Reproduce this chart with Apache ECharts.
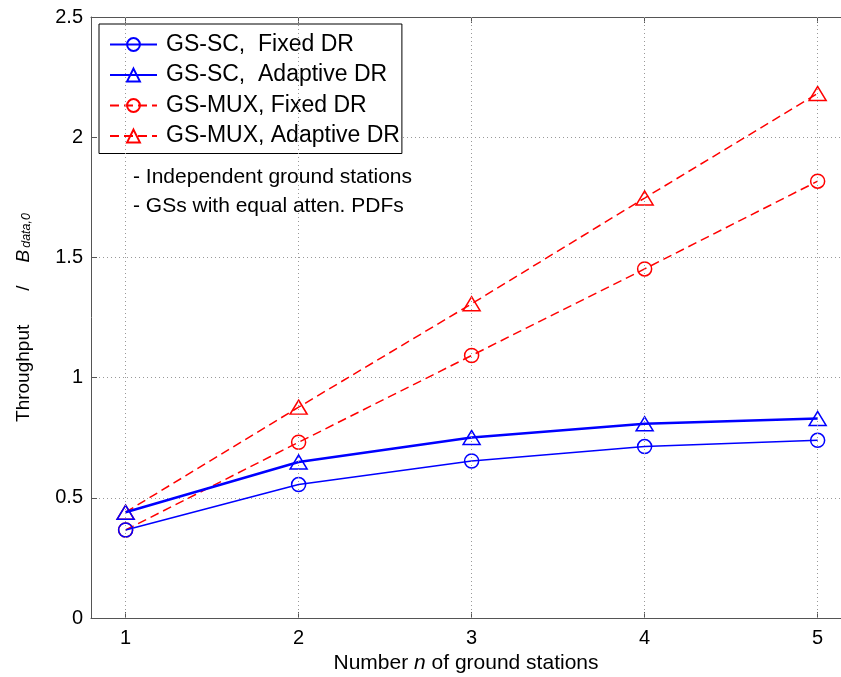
<!DOCTYPE html>
<html>
<head>
<meta charset="utf-8">
<script src="https://cdn.jsdelivr.net/npm/echarts@6/dist/echarts.min.js"></script>
<style>html,body{margin:0;padding:0;background:#fff;}#c{width:841px;height:677px;}</style>
</head>
<body>
<div id="c"></div>
<script>
const xValues = [1, 2, 3, 4, 5];
const xTicks = [1, 2, 3, 4, 5];
const yTicks = [0, 0.5, 1, 1.5, 2, 2.5];
const scFixed = [0.366, 0.555, 0.653, 0.713, 0.739];
const scAdaptive = [0.44, 0.649, 0.751, 0.808, 0.83];
const muxFixed = [0.366, 0.731, 1.092, 1.452, 1.817];
const muxAdaptive = [0.44, 0.877, 1.307, 1.747, 2.182];
const seriesNames = ['GS-SC,  Fixed DR', 'GS-SC,  Adaptive DR', 'GS-MUX, Fixed DR', 'GS-MUX, Adaptive DR'];
const notes = ['- Independent ground stations', '- GSs with equal atten. PDFs'];

const FONT = 'Liberation Sans, Arial, sans-serif';
const BLUE = '#0000ff', RED = '#ff0000';
const pairs = arr => xValues.map((x, i) => [x, arr[i]]);

const chart = echarts.init(document.getElementById('c'), null, {renderer: 'canvas'});

function mkSeries(name, data, color, symbol, size, width, dashed, z) {
  return {
    name: name, type: 'line', data: pairs(data), color: color,
    symbol: symbol, symbolSize: size, z: z,
    lineStyle: {color: color, width: width, type: dashed ? [9, 5] : 'solid'},
    itemStyle: {color: 'rgba(255,255,255,0)', borderColor: color, borderWidth: 1.5},
    emphasis: {disabled: true}, animation: false
  };
}

const option = {
  backgroundColor: '#fff',
  animation: false,
  textStyle: {fontFamily: FONT},
  grid: {left: 91, top: 17, right: 0, bottom: 59, outerBoundsMode: 'none', containLabel: false},
  xAxis: [{
    type: 'value', min: 0.8, max: 5.135, position: 'bottom',
    axisLine: {show: true, lineStyle: {color: '#555', width: 1}},
    axisTick: {show: true, inside: true, length: 6, customValues: xTicks, lineStyle: {color: '#555'}},
    axisLabel: {customValues: xTicks, fontSize: 20, color: '#000', margin: 10, fontFamily: FONT},
    splitLine: {show: false},
    name: 'Number {i|n} of ground stations',
    nameLocation: 'middle', nameGap: 34,
    nameTextStyle: {fontSize: 21, color: '#000', fontFamily: FONT,
      rich: {i: {fontSize: 21, fontStyle: 'italic', color: '#000', fontFamily: FONT}}}
  }, {
    type: 'value', min: 0.8, max: 5.135, position: 'top',
    axisLine: {show: true, onZero: false, lineStyle: {color: '#555', width: 1}},
    axisTick: {show: true, inside: true, length: 6, customValues: xTicks, lineStyle: {color: '#555'}},
    axisLabel: {show: false},
    splitLine: {show: false}
  }],
  yAxis: [{
    type: 'value', min: 0, max: 2.5, interval: 0.5,
    axisLine: {show: true, lineStyle: {color: '#555', width: 1}},
    axisTick: {show: true, inside: true, length: 6, lineStyle: {color: '#555'}},
    axisLabel: {fontSize: 20, color: '#000', margin: 8, fontFamily: FONT,
      formatter: v => String(v)},
    splitLine: {show: true, lineStyle: {color: '#999', width: 1, type: [1, 3]}},
    name: '{a|Throughput}{s|/}{b|B}{c|data,0}',
    nameLocation: 'middle', nameGap: 58, nameRotate: 90,
    nameTextStyle: {color: '#000', fontFamily: FONT,
      rich: {
        a: {fontSize: 19, lineHeight: 19, verticalAlign: 'top', color: '#000', fontFamily: FONT},
        s: {fontSize: 19, lineHeight: 19, verticalAlign: 'top', color: '#000', fontFamily: FONT, padding: [0, 23, 0, 34]},
        b: {fontSize: 19, lineHeight: 19, verticalAlign: 'top', fontStyle: 'italic', color: '#000', fontFamily: FONT},
        c: {fontSize: 12.5, lineHeight: 12.5, padding: [14.5, 0, 0, 2], verticalAlign: 'bottom', fontStyle: 'italic', color: '#000', fontFamily: FONT}
      }}
  }],
  legend: {
    orient: 'vertical', left: 99, top: 24,
    data: seriesNames,
    backgroundColor: '#fff', borderColor: '#000', borderWidth: 1,
    padding: [9, 2, 6, 10], itemGap: 7.5,
    itemWidth: 47, itemHeight: 16,
    textStyle: {fontSize: 23, color: '#000', fontFamily: FONT, lineHeight: 22, padding: [0, 0, 0, 4]},
    selectedMode: false
  },
  graphic: notes.map((t, i) => ({
    type: 'text', left: 133, top: 167 + i * 29, z: 50,
    style: {text: t, fontSize: 21, fill: '#000', fontFamily: FONT}
  })),
  series: [
    {
      type: 'line', data: [], silent: true, z: 1,
      markLine: {
        silent: true, symbol: 'none', animation: false,
        label: {show: false},
        lineStyle: {color: '#999', width: 1, type: [1, 3]},
        data: xTicks.map(v => ({xAxis: v}))
      }
    },
    mkSeries(seriesNames[0], scFixed, BLUE, 'circle', 14, 1.5, false, 4),
    mkSeries(seriesNames[1], scAdaptive, BLUE, 'triangle', [17, 14], 2.5, false, 4),
    mkSeries(seriesNames[2], muxFixed, RED, 'circle', 14, 1.5, true, 3),
    mkSeries(seriesNames[3], muxAdaptive, RED, 'triangle', [17, 14], 1.5, true, 3)
  ]
};
chart.setOption(option);
</script>
</body>
</html>
